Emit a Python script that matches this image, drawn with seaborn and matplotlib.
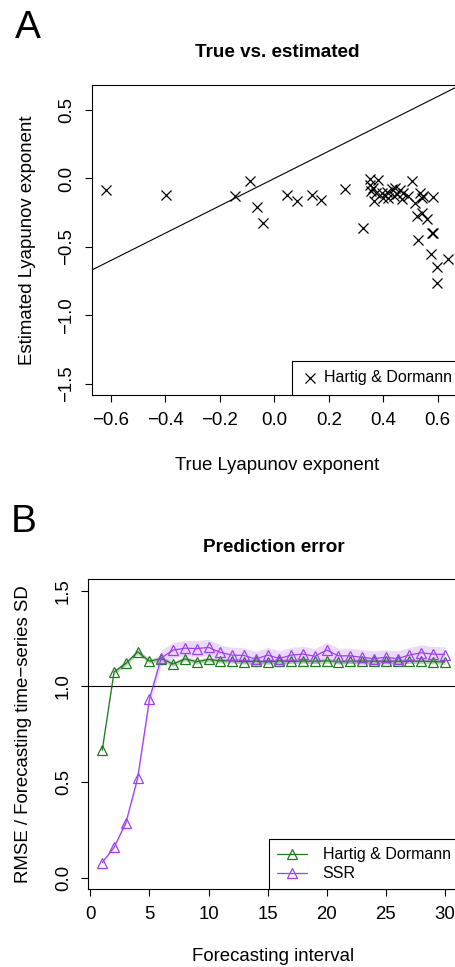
import pandas as pd
import seaborn as sns
import matplotlib.pyplot as plt

# Panel A: true vs estimated Lyapunov exponent
true_lyap = [-0.617, -0.399, -0.143, -0.089, -0.063, -0.040, 0.045, 0.083, 0.137, 0.171,
             0.259, 0.324,
             0.351, 0.382, 0.506, 0.351, 0.364, 0.355, 0.372, 0.394, 0.412, 0.431,
             0.443, 0.449, 0.461, 0.473, 0.492, 0.367, 0.400, 0.418, 0.440, 0.468,
             0.516, 0.535, 0.541, 0.547, 0.583,
             0.523, 0.541, 0.559, 0.580, 0.583, 0.528, 0.574, 0.596, 0.639, 0.596]
est_lyap = [-0.083, -0.124, -0.127, -0.019, -0.207, -0.326, -0.122, -0.163, -0.119, -0.161,
            -0.078, -0.363,
            -0.007, -0.012, -0.020, -0.044, -0.068, -0.093, -0.104, -0.109, -0.100, -0.080,
            -0.068, -0.117, -0.085, -0.104, -0.129, -0.166, -0.141, -0.141, -0.129, -0.148,
            -0.177, -0.104, -0.141, -0.129, -0.134,
            -0.275, -0.250, -0.299, -0.397, -0.400, -0.450, -0.555, -0.647, -0.591, -0.766]

# Panel B: prediction error by forecasting interval
horizon = list(range(1, 31))
hd_rmse = [0.667, 1.076, 1.120, 1.181, 1.132, 1.146, 1.117, 1.144, 1.129, 1.141,
           1.134, 1.135, 1.129, 1.133, 1.128, 1.134, 1.131, 1.133, 1.131, 1.134,
           1.129, 1.131, 1.133, 1.132, 1.132, 1.132, 1.132, 1.132, 1.130, 1.128]
ssr_rmse = [0.080, 0.159, 0.287, 0.521, 0.934, 1.149, 1.190, 1.200, 1.198, 1.204,
            1.178, 1.164, 1.162, 1.143, 1.164, 1.146, 1.164, 1.169, 1.158, 1.190,
            1.160, 1.160, 1.152, 1.146, 1.152, 1.146, 1.164, 1.176, 1.169, 1.167]
ssr_band = [0.005, 0.007, 0.01, 0.015, 0.03, 0.04, 0.04, 0.04, 0.042, 0.042,
            0.04, 0.04, 0.04, 0.04, 0.04, 0.04, 0.04, 0.04, 0.04, 0.04,
            0.04, 0.04, 0.04, 0.04, 0.04, 0.04, 0.04, 0.04, 0.04, 0.04]
hd_band = 0.012

green = "#1f7a1f"
purple = "#9f3ff0"

sns.set_style("ticks", {"axes.edgecolor": "black", "xtick.color": "black",
                        "ytick.color": "black", "text.color": "black",
                        "axes.labelcolor": "black"})
plt.rcParams['font.family'] = ['Liberation Sans', 'DejaVu Sans']

fig = plt.figure(figsize=(4.56, 9.67), dpi=100)
ax1 = fig.add_axes([92 / 456, 1 - 395 / 967, 370 / 456, 310 / 967])
ax2 = fig.add_axes([88.5 / 456, 1 - 889.3 / 967, 370 / 456, 310 / 967])

for ax in (ax1, ax2):
    for sp in ax.spines.values():
        sp.set_linewidth(0.8)
        sp.set_color("black")
    ax.tick_params(direction="out", length=5, width=0.8, labelsize=13.4, pad=7)

# --- panel A
df_a = pd.DataFrame({"true": true_lyap, "est": est_lyap})
sns.scatterplot(data=df_a, x="true", y="est", marker="x", color="black", s=52,
                linewidth=0.9, label="Hartig & Dormann", ax=ax1)
ax1.axline((0, 0), slope=1, color="black", lw=0.8)
ax1.set_xlim(-0.669, 0.689)
ax1.set_ylim(-1.584, 0.684)
ax1.set_xticks([-0.6, -0.4, -0.2, 0.0, 0.2, 0.4, 0.6])
ax1.set_xticklabels(["\u22120.6", "\u22120.4", "\u22120.2", "0.0", "0.2", "0.4", "0.6"])
ax1.set_yticks([-1.5, -1.0, -0.5, 0.0, 0.5])
ax1.set_yticklabels(["\u22121.5", "\u22121.0", "\u22120.5", "0.0", "0.5"])
ax1.set_xlabel("True Lyapunov exponent", fontsize=13.4)
ax1.set_ylabel("Estimated Lyapunov exponent", fontsize=13.4)
ax1.set_title("True vs. estimated", fontsize=13.6, fontweight="bold", pad=20)
leg = ax1.legend(loc="lower right", bbox_to_anchor=(1, 0), borderaxespad=0,
                 fancybox=False, framealpha=1, edgecolor="black", fontsize=11.5,
                 handlelength=1.0, handletextpad=0.4, borderpad=0.6)
leg.get_frame().set_linewidth(0.8)

# --- panel B
df_b = pd.DataFrame({"h": horizon * 2, "rmse": hd_rmse + ssr_rmse,
                     "method": ["Hartig & Dormann"] * 30 + ["SSR"] * 30})
ax2.fill_between(horizon, [v - b for v, b in zip(ssr_rmse, ssr_band)],
                 [v + b for v, b in zip(ssr_rmse, ssr_band)],
                 color=purple, alpha=0.2, lw=0)
ax2.fill_between(horizon, [v - hd_band for v in hd_rmse], [v + hd_band for v in hd_rmse],
                 color=green, alpha=0.3, lw=0)
ax2.axhline(1.0, color="black", lw=0.8)
sns.lineplot(data=df_b, x="h", y="rmse", hue="method",
             palette={"Hartig & Dormann": green, "SSR": purple},
             marker="^", mfc="none", mew=0.9, markersize=7.5, lw=0.9, ax=ax2)
for line, c in zip(ax2.get_lines()[1:], [green, purple]):
    line.set_markeredgecolor(c)
ax2.set_xlim(-0.16, 31.16)
ax2.set_ylim(-0.06, 1.56)
ax2.set_xticks(range(0, 31, 5))
ax2.set_yticks([0.0, 0.5, 1.0, 1.5])
ax2.set_yticklabels(["0.0", "0.5", "1.0", "1.5"])
ax2.set_xlabel("Forecasting interval", fontsize=13.4)
ax2.set_ylabel("RMSE / Forecasting time\u2212series SD", fontsize=13.4)
ax2.set_title("Prediction error", fontsize=13.6, fontweight="bold", pad=20)
leg2 = ax2.legend(loc="lower right", bbox_to_anchor=(1, 0), borderaxespad=0,
                  fancybox=False, framealpha=1, edgecolor="black", fontsize=11.5,
                  handlelength=1.9, handletextpad=0.95, borderpad=0.5, labelspacing=0.25)
leg2.get_frame().set_linewidth(0.8)
for h, c in zip(leg2.get_lines(), [green, purple]):
    h.set_markerfacecolor("none")
    h.set_markeredgecolor(c)

for ax in (ax1, ax2):
    for lab in ax.get_yticklabels():
        lab.set_rotation(90)
        lab.set_va("center")
    ax.yaxis.set_label_coords(-0.152, 0.5)
ax1.xaxis.set_label_coords(0.5, -0.2)
ax2.xaxis.set_label_coords(0.5, -0.19)

fig.text(15 / 456, 1 - 37.5 / 967, "A", fontsize=28, va="baseline", ha="left")
fig.text(11 / 456, 1 - 532 / 967, "B", fontsize=28, va="baseline", ha="left")

fig.savefig("out.png", dpi=100)
